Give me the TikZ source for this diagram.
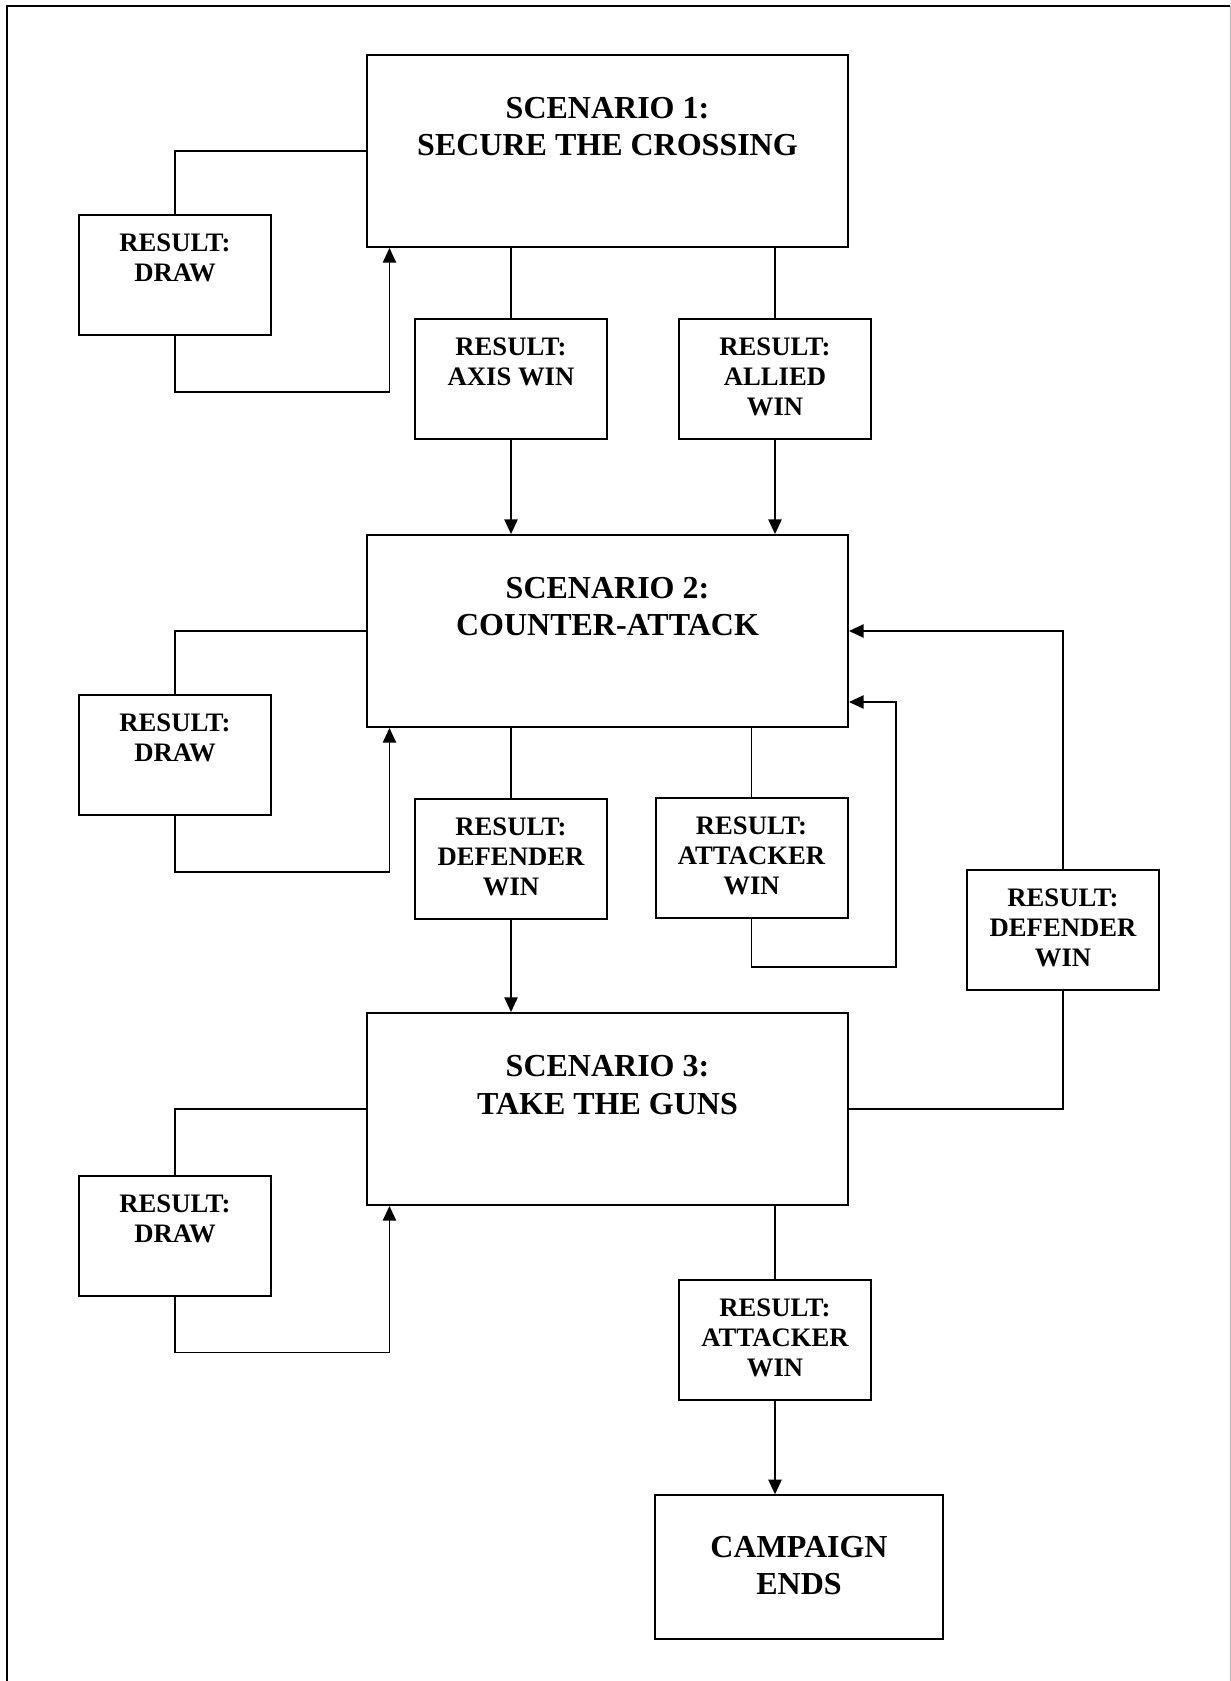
\documentclass[tikz,border=0pt]{standalone}
\usepackage{fontspec}
\setmainfont{Liberation Serif}
\usetikzlibrary{arrows.meta}

\tikzset{
	scenario/.style={draw, line width=1.5pt, inner sep=0pt, minimum width=360.75pt, minimum height=144pt},
	result/.style={draw, line width=1.5pt, inner sep=0pt, minimum width=144pt, minimum height=90pt},
	bigtext/.style={anchor=north, inner sep=0pt, align=center, font=\bfseries\fontsize{24}{28}\selectfont},
	smalltext/.style={anchor=north, inner sep=0pt, align=center, font=\bfseries\fontsize{20}{22.5}\selectfont},
	link/.style={line width=1.1pt},
	arrowlink/.style={link, -{Triangle[length=11pt,width=10pt]}}}

\begin{document}
\begin{tikzpicture}[x=0.75pt,y=0.75pt,yscale=-1,xscale=1]
	\useasboundingbox (0,0) rectangle (1231,1681);

	%Page frame
	\draw [line width=1.75pt] (7,1681) -- (7,6) -- (1230,6) ;
	\draw [line width=0.75pt, black!30] (1230,6) -- (1230,1681) ;

	%Scenario boxes
	\node [scenario] (s1) at (607.5,151) {};
	\node [scenario] (s2) at (607.5,631) {};
	\node [scenario] (s3) at (607.5,1109) {};
	%Campaign end
	\node [draw, line width=1.5pt, inner sep=0pt, minimum width=216pt, minimum height=107.6pt] (cend) at (799,1567) {};

	%Result boxes
	\node [result] (d1) at (175,275) {};
	\node [result] (d2) at (175,755) {};
	\node [result] (d3) at (175,1235.5) {};
	\node [result] (axis) at (511,379) {};
	\node [result] (allied) at (775,379) {};
	\node [result] (def2) at (511,859) {};
	\node [result] (att2) at (751.5,858) {};
	\node [result] (def3) at (1063,930) {};
	\node [result] (att3) at (775,1339.5) {};

	% Text Node
	\node [bigtext] (s1txt) at (607.5,97) {SCENARIO 1:\\SECURE THE CROSSING};
	% Text Node
	\node [bigtext] (s2txt) at (607.5,577) {SCENARIO 2:\\COUNTER-ATTACK};
	% Text Node
	\node [bigtext] (s3txt) at (607.5,1055.5) {SCENARIO 3:\\TAKE THE GUNS};
	% Text Node
	\node [bigtext] (cendtxt) at (799,1536) {CAMPAIGN\\ENDS};
	% Text Node
	\node [smalltext] (d1txt) at (175,234) {RESULT:\\DRAW};
	\node [smalltext] (d2txt) at (175,714) {RESULT:\\DRAW};
	\node [smalltext] (d3txt) at (175,1194.5) {RESULT:\\DRAW};
	% Text Node
	\node [smalltext] (axistxt) at (511,338) {RESULT:\\AXIS WIN};
	\node [smalltext] (alliedtxt) at (775,338) {RESULT:\\ALLIED\\WIN};
	% Text Node
	\node [smalltext] (def2txt) at (511,818) {RESULT:\\DEFENDER\\WIN};
	\node [smalltext] (att2txt) at (751.5,817) {RESULT:\\ATTACKER\\WIN};
	\node [smalltext] (def3txt) at (1063,889) {RESULT:\\DEFENDER\\WIN};
	\node [smalltext] (att3txt) at (775,1299) {RESULT:\\ATTACKER\\WIN};

	%Draw loops
	\draw [link] (s1.west) -| (d1.north) ;
	\draw [arrowlink] (d1.south) -- ++(0,56) -| ([xshift=17.6pt]s1.south west) ;
	\draw [link] (s2.west) -| (d2.north) ;
	\draw [arrowlink] (d2.south) -- ++(0,56) -| ([xshift=17.6pt]s2.south west) ;
	\draw [link] (s3.west) -| (d3.north) ;
	\draw [arrowlink] (d3.south) -- ++(0,56) -| ([xshift=17.6pt]s3.south west) ;

	%Scenario 1 results
	\draw [link] (s1.south -| axis.north) -- (axis.north) ;
	\draw [arrowlink] (axis.south) -- (axis.south |- s2.north) ;
	\draw [link] (s1.south -| allied.north) -- (allied.north) ;
	\draw [arrowlink] (allied.south) -- (allied.south |- s2.north) ;

	%Scenario 2 results
	\draw [link] (s2.south -| def2.north) -- (def2.north) ;
	\draw [arrowlink] (def2.south) -- (def2.south |- s3.north) ;
	\draw [link] (s2.south -| att2.north) -- (att2.north) ;
	\coordinate (att2turn) at (896,702);
	\draw [arrowlink] (att2.south) -- ++(0,48) -| (att2turn) -- (att2turn -| s2.east) ;

	%Scenario 3 results
	\draw [link] (s3.east) -| (def3.south) ;
	\draw [arrowlink] (def3.north) |- (s2.east) ;
	\draw [link] (s3.south -| att3.north) -- (att3.north) ;
	\draw [arrowlink] (att3.south) -- (att3.south |- cend.north) ;

\end{tikzpicture}
\end{document}
